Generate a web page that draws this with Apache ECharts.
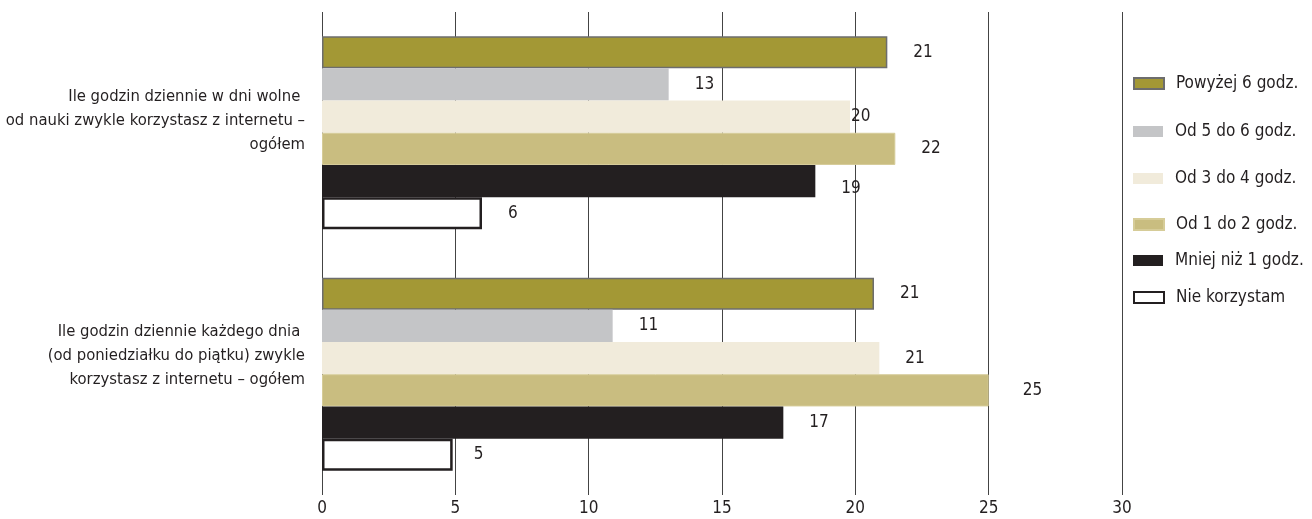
<!DOCTYPE html>
<html><head><meta charset="utf-8">
<script src="https://cdn.jsdelivr.net/npm/echarts@6/dist/echarts.min.js"></script>
<style>html,body{margin:0;padding:0;background:#fff}#c{width:1312px;height:519px}</style>
</head><body><div id="c"></div>
<script>
const categories = [
  'Ile godzin dziennie w dni wolne \nod nauki zwykle korzystasz z internetu –\nogółem',
  'Ile godzin dziennie każdego dnia \n(od poniedziałku do piątku) zwykle\nkorzystasz z internetu – ogółem'
];
const seriesNames = ['Powyżej 6 godz.', 'Od 5 do 6 godz.', 'Od 3 do 4 godz.', 'Od 1 do 2 godz.', 'Mniej niż 1 godz.', 'Nie korzystam'];
const powyzej6 = [21.2, 20.7];
const od5do6 = [13.0, 10.9];
const od3do4 = [19.8, 20.9];
const od1do2 = [21.5, 25.0];
const mniejNiz1 = [18.5, 17.3];
const nieKorzystam = [6.0, 4.9];
const xTicks = [0, 5, 10, 15, 20, 25, 30];

const FONT = "'Liberation Sans Narrow', 'DejaVu Sans Condensed', 'Roboto', sans-serif";
const TXT = '#231f20';
const values = [powyzej6, od5do6, od3do4, od1do2, mniejNiz1, nieKorzystam];
const styles = [
  {color: '#a39835', borderColor: '#6d6d6d', borderWidth: 1.5},
  {color: '#c4c5c7'},
  {color: '#f1ebdb'},
  {color: '#c9bd80', borderColor: '#d6cc98', borderWidth: 1},
  {color: '#231f20'},
  {color: '#ffffff', borderColor: '#231f20', borderWidth: 2.5}
];
// label tweaks per [series][category]
const labelTweaks = {'2-0': [-25, 0], '4-0': [0, 8], '3-1': [8, 0], '5-1': [-5, 0]};
const legendCenters = [82, 130, 177, 223, 259, 296];

const series = seriesNames.map((name, i) => ({
  name, type: 'bar', barGap: '0%', barCategoryGap: '20%',
  itemStyle: styles[i],
  data: values[i].map((v, j) => {
    const t = labelTweaks[i + '-' + j];
    return t ? {value: v, label: {offset: t}} : {value: v};
  }),
  label: {
    show: true, position: 'right', distance: 26,
    formatter: p => Math.round(p.value),
    color: TXT, fontFamily: FONT, fontSize: 17
  }
}));

const legends = seriesNames.map((name, i) => ({
  data: [name], left: 1133, top: legendCenters[i] - 7, padding: 0,
  itemWidth: 30, itemHeight: 11, itemGap: 14, icon: 'rect',
  textStyle: {color: TXT, fontFamily: FONT, fontSize: 17, padding: [0, 0, 0, 7]},
  selectedMode: false
}));

const chart = echarts.init(document.getElementById('c'), null, {renderer: 'canvas'});
chart.setOption({
  animation: false,
  grid: {left: 322, right: 190, top: 12, bottom: 24, containLabel: false, outerBoundsMode: 'none'},
  legend: legends,
  xAxis: {
    type: 'value', min: 0, max: 30, interval: 5,
    axisLine: {show: false}, axisTick: {show: false},
    splitLine: {show: true, lineStyle: {color: '#444444', width: 1}},
    axisLabel: {color: TXT, fontFamily: FONT, fontSize: 17, margin: 5,
      formatter: v => xTicks.includes(v) ? String(v) : ''}
  },
  yAxis: {
    type: 'category', data: categories, inverse: true,
    axisLine: {show: false}, axisTick: {show: false},
    axisLabel: {
      margin: 17, align: 'right',
      formatter: (v, idx) => v.split('\n').map(s => '{t|' + s + '}').join('\n') + '\n{s' + idx + '| }',
      rich: {
        t: {color: TXT, fontFamily: FONT, fontSize: 16.5, lineHeight: 24, align: 'right'},
        s0: {fontSize: 10, lineHeight: 24},
        s1: {fontSize: 10, lineHeight: 38}
      }
    }
  },
  series
});
</script></body></html>
